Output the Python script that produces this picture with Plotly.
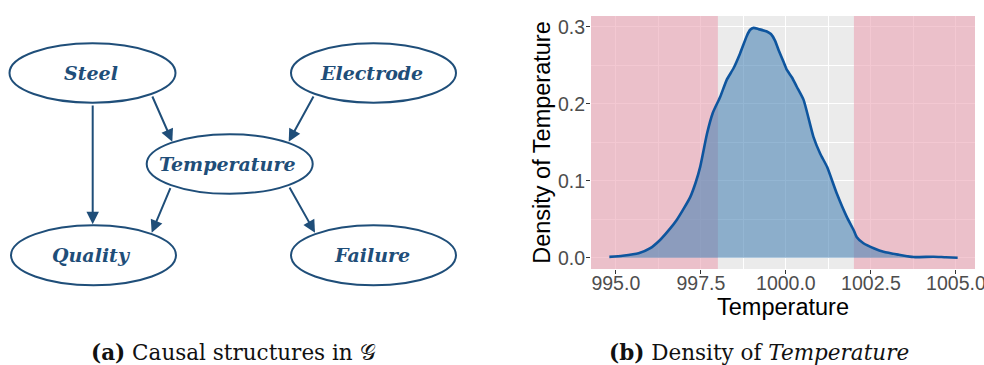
import plotly.graph_objects as go

# ---------------- Causal graph (panel a) ----------------
node_names = ["Steel", "Electrode", "Temperature", "Quality", "Failure"]
node_x = [92.5, 373.5, 229.7, 93.5, 373.5]
node_y = [73.0, 73.0, 164.0, 255.3, 255.3]
node_rx = [83.0, 82.5, 83.0, 82.5, 82.5]
node_ry = [29.7, 29.7, 29.8, 30.0, 30.0]

# edges: (tail x, tail y, head x, head y)
edge_from = ["Steel", "Steel", "Electrode", "Temperature", "Temperature"]
edge_to = ["Quality", "Temperature", "Temperature", "Quality", "Failure"]
edge_tail_x = [92.7, 151.7, 314.3, 171.0, 288.7]
edge_tail_y = [104.0, 95.0, 95.0, 186.7, 186.0]
edge_head_x = [92.7, 172.3, 288.7, 151.7, 315.0]
edge_head_y = [224.3, 141.7, 141.7, 232.7, 232.7]

# ---------------- Density of Temperature (panel b) ----------------
temp_x = [994.81, 995.2, 995.67, 996.0, 996.3, 996.6, 996.79, 997.0, 997.19,
          997.35, 997.48, 997.68, 997.85, 998.07, 998.26, 998.46, 998.65,
          998.85, 998.95, 999.05, 999.2, 999.44, 999.56, 999.68, 999.8,
          999.93, 1000.03, 1000.18, 1000.32, 1000.52, 1000.81, 1001.01,
          1001.21, 1001.5, 1001.79, 1001.99, 1002.08, 1002.28, 1002.6,
          1002.87, 1003.3, 1003.75, 1004.34, 1004.7, 1005.05]
temp_density = [0.001, 0.0025, 0.0057, 0.012, 0.023, 0.038, 0.049, 0.064, 0.079,
                0.098, 0.118, 0.161, 0.188, 0.209, 0.231, 0.246, 0.265,
                0.288, 0.296, 0.2985, 0.2968, 0.2938, 0.2905, 0.282, 0.268,
                0.2545, 0.2438, 0.234, 0.222, 0.205, 0.157, 0.135,
                0.118, 0.083, 0.053, 0.036, 0.027, 0.0187, 0.012,
                0.0078, 0.004, 0.0008, 0.0013, 0.0005, 0.0]
lower_limit = 998.0
upper_limit = 1002.0
x_range = [994.27, 1005.56]
y_range = [-0.0147, 0.3139]
x_ticks = [995.0, 997.5, 1000.0, 1002.5, 1005.0]
y_ticks = [0.0, 0.1, 0.2, 0.3]

W, H = 984, 365
graph_color = "#1F4E79"
line_blue = "#0E559E"

fig = go.Figure()

# out-of-range temperature bands (drawn above the grid, below the density)
for a, b in [(x_range[0], lower_limit), (upper_limit, x_range[1])]:
    fig.add_trace(go.Scatter(
        x=[a, b, b, a, a], y=[y_range[0], y_range[0], y_range[1], y_range[1], y_range[0]],
        mode="lines", line=dict(width=0), fill="toself",
        fillcolor="rgba(235,163,180,0.6)", xaxis="x", yaxis="y",
        hoverinfo="skip", showlegend=False))

fig.add_trace(go.Scatter(
    x=temp_x, y=temp_density, mode="lines",
    line=dict(color=line_blue, width=2.6, shape="spline", smoothing=0.5),
    fill="tozeroy", fillcolor="rgba(70,130,180,0.58)",
    xaxis="x", yaxis="y", hoverinfo="skip", showlegend=False,
))

# invisible anchor trace for the diagram axes
fig.add_trace(go.Scatter(x=node_x, y=node_y, mode="markers",
                         marker=dict(opacity=0), xaxis="x2", yaxis="y2",
                         hoverinfo="skip", showlegend=False))

shapes = []
# grey panel background of the density plot
shapes.append(dict(type="rect", xref="paper", yref="paper",
                   x0=591 / W, x1=975 / W, y0=1 - 269 / H, y1=1 - 16 / H,
                   fillcolor="#EBEBEB", line=dict(width=0), layer="below"))

# nodes of the causal graph
for cx, cy, rx, ry in zip(node_x, node_y, node_rx, node_ry):
    shapes.append(dict(type="circle", xref="x2", yref="y2",
                       x0=cx - rx, x1=cx + rx, y0=cy - ry, y1=cy + ry,
                       line=dict(color=graph_color, width=2),
                       fillcolor="rgba(0,0,0,0)", layer="above"))

annotations = []
for name, cx, cy in zip(node_names, node_x, node_y):
    annotations.append(dict(
        x=cx - 2, y=cy, xref="x2", yref="y2", showarrow=False,
        text=f"<b><i>{name}</i></b>",
        font=dict(family="DejaVu Serif", size=19, color=graph_color),
        xanchor="center", yanchor="middle"))

for tx, ty, hx, hy in zip(edge_tail_x, edge_tail_y, edge_head_x, edge_head_y):
    annotations.append(dict(
        x=hx, y=hy, ax=tx, ay=ty, xref="x2", yref="y2",
        axref="x2", ayref="y2", showarrow=True, text="",
        arrowhead=2, arrowsize=1.25, arrowwidth=2, arrowcolor=graph_color))

# sub-figure captions
caption_font = dict(family="DejaVu Serif", size=21.5, color="#111111")
annotations.append(dict(
    x=233 / W, y=1 - 352 / H, xref="paper", yref="paper", showarrow=False,
    text="<b>(a)</b> Causal structures in 𝒢", font=caption_font,
    xanchor="center", yanchor="middle"))
annotations.append(dict(
    x=759 / W, y=1 - 352 / H, xref="paper", yref="paper", showarrow=False,
    text="<b>(b)</b> Density of <i>Temperature</i>", font=caption_font,
    xanchor="center", yanchor="middle"))

tick_font = dict(family="Liberation Sans", size=19.5, color="#4D4D4D")
title_font = dict(family="Liberation Sans", size=23.5, color="#000000")

fig.update_layout(
    width=W, height=H,
    margin=dict(l=0, r=0, t=0, b=0),
    paper_bgcolor="white", plot_bgcolor="rgba(0,0,0,0)",
    shapes=shapes, annotations=annotations,
    xaxis=dict(
        domain=[591 / W, 975 / W], anchor="y", range=x_range,
        automargin=False,
        tickmode="array", tickvals=x_ticks, tickformat=".1f",
        ticks="outside", ticklen=4, tickwidth=1.1, tickcolor="#333333",
        tickfont=tick_font, showgrid=True, gridcolor="white", gridwidth=1.4,
        ticklabeloverflow="allow", ticklabelstandoff=-7,
        minor=dict(dtick=1.25, tick0=995, showgrid=True, gridcolor="white",
                   gridwidth=0.6, ticks=""),
        zeroline=False, showline=False,
        title=dict(text="Temperature", font=title_font, standoff=0),
    ),
    yaxis=dict(
        domain=[1 - 269 / H, 1 - 16 / H], anchor="x", range=y_range,
        automargin=False,
        tickmode="array", tickvals=y_ticks, tickformat=".1f",
        ticks="outside", ticklen=4, tickwidth=1.1, tickcolor="#333333",
        tickfont=tick_font, showgrid=True, gridcolor="white", gridwidth=1.4,
        ticklabelstandoff=-3,
        minor=dict(dtick=0.05, tick0=0, showgrid=True, gridcolor="white",
                   gridwidth=0.6, ticks=""),
        zeroline=False, showline=False,
        title=dict(text="Density of Temperature", font=title_font, standoff=0),
    ),
    xaxis2=dict(domain=[0, 0.5], anchor="y2", range=[0, 0.5 * W],
                visible=False, fixedrange=True, automargin=False),
    yaxis2=dict(domain=[0, 1], anchor="x2", range=[H, 0],
                visible=False, fixedrange=True, automargin=False),
)

fig.write_html("out.html")
